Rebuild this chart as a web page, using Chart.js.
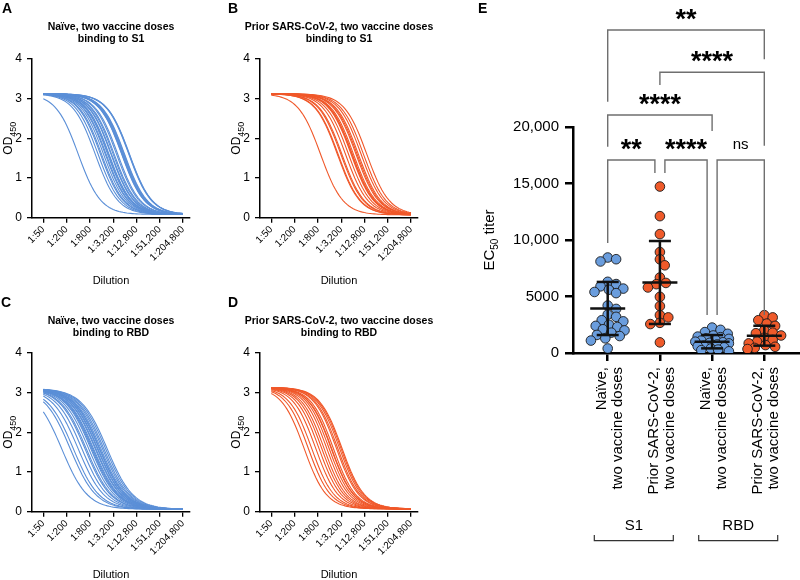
<!DOCTYPE html>
<html><head><meta charset="utf-8">
<script src="https://cdn.jsdelivr.net/npm/chart.js@4/dist/chart.umd.min.js"></script>
<style>
html,body{margin:0;padding:0;background:#fff;}
#wrap{position:relative;width:800px;height:580px;overflow:hidden;background:#fff;}
canvas{position:absolute;}
</style></head><body>
<div id="wrap">
<canvas id="cA" width="220" height="290" style="left:0px;top:0px"></canvas>
<canvas id="cB" width="220" height="290" style="left:228px;top:0px"></canvas>
<canvas id="cC" width="220" height="286" style="left:0px;top:294px"></canvas>
<canvas id="cD" width="220" height="286" style="left:228px;top:294px"></canvas>
<canvas id="cE" width="380" height="580" style="left:420px;top:0px"></canvas>
</div>
<script>
// ---------------- data ----------------
const dilutionTicks = [50, 200, 800, 3200, 12800, 51200, 204800];
const odTicks = [0, 1, 2, 3, 4];
const ec50Ticks = [0, 5000, 10000, 15000, 20000];
const groupLines = [['Naïve,', 'two vaccine doses'], ['Prior SARS-CoV-2,', 'two vaccine doses'],
                    ['Naïve,', 'two vaccine doses'], ['Prior SARS-CoV-2,', 'two vaccine doses']];
const antigenGroups = ['S1', 'RBD'];
const panelTitles = {
  A: ['Naïve, two vaccine doses', 'binding to S1'],
  B: ['Prior SARS-CoV-2, two vaccine doses', 'binding to S1'],
  C: ['Naïve, two vaccine doses', 'binding to RBD'],
  D: ['Prior SARS-CoV-2, two vaccine doses', 'binding to RBD']
};
// EC50 titers per participant (panel E); the same values are the midpoints of the fitted curves (A-D)
const naiveS1 = [8450, 8300, 8100, 6300, 6100, 5900, 5700, 5600, 5400, 5300, 4200, 3900, 3400, 3200,
                 2900, 2800, 2500, 2400, 2300, 2100, 2000, 1800, 1600, 1500, 1300, 1100, 400];
const priorS1 = [14730, 12110, 10520, 8930, 8290, 7760, 6680, 6200, 6090, 5800, 4970, 4150, 3350,
                 3150, 2670, 2560, 940];
const naiveRBD = [2250, 2050, 1850, 1700, 1550, 1450, 1400, 1300, 1250, 1150, 1100, 1000, 950, 900,
                  850, 750, 650, 600, 500, 400, 300, 250, 150];
const priorRBD = [3350, 3150, 2900, 2600, 2400, 2000, 1800, 1750, 1550, 1350, 1150, 1000, 850, 700,
                  550, 450, 350];
const groupMean = [3940, 6240, 1000, 1530];
const groupSD = [2350, 3670, 590, 880];
const fitA = [3.12, 0.08, 1.5];
const fitB = [3.12, 0.07, 1.5];
const fitC = [3.10, 0.06, 1.3];
const fitD = [3.13, 0.07, 1.5];
// significance comparisons [groupFrom, groupTo, label]
const comparisons = [[1, 2, '**'], [2, 3, '****'], [3, 4, 'ns'], [1, 3, '****'], [2, 4, '****'], [1, 4, '**']];

// ---------------- styling ----------------
const FONT = '"Liberation Sans", Arial, Helvetica, sans-serif';
Chart.defaults.font.family = FONT;
Chart.defaults.color = '#000';
Chart.defaults.animation = false;
const BLUE_LINE = '#5b8fd7', ORANGE_LINE = '#f0582a';
const BLUE_DOT = '#6a9ddd', ORANGE_DOT = '#ef5a2a';

function drawRotatedSub(ctx, main, sub, tail, x, y, size, subSize, subShift) {
  ctx.save();
  ctx.translate(x, y); ctx.rotate(-Math.PI / 2);
  ctx.textBaseline = 'alphabetic'; ctx.textAlign = 'left'; ctx.fillStyle = '#000';
  ctx.font = size + 'px ' + FONT; const w1 = ctx.measureText(main).width;
  const w3 = tail ? ctx.measureText(tail).width : 0;
  ctx.font = subSize + 'px ' + FONT; const w2 = ctx.measureText(sub).width;
  const sx = -(w1 + w2 + w3) / 2, base = size * 0.36;
  ctx.font = size + 'px ' + FONT; ctx.fillText(main, sx, base);
  if (tail) ctx.fillText(tail, sx + w1 + w2, base);
  ctx.font = subSize + 'px ' + FONT; ctx.fillText(sub, sx + w1, base + subShift);
  ctx.restore();
}

function makeCurvePanel(id, letter, letterX, title, ec50s, color, fit) {
  const cv = document.getElementById(id);
  const W = cv.width, H = cv.height;
  const area = {left: 32, right: 190, top: 58.7, bottom: 217.7};
  const [top, bottom, hill] = fit;
  const steps = [];
  for (let k = 0; k <= 72; k++) steps.push(dilutionTicks[0] * Math.pow(2, k / 6));
  const datasets = ec50s.map(e => ({
    data: steps.map(d => ({x: d, y: bottom + (top - bottom) / (1 + Math.pow(d / e, hill))})),
    borderColor: color, borderWidth: 1.1, pointRadius: 0, fill: false, tension: 0
  }));
  const axisGrid = {drawOnChartArea: false, drawTicks: true, tickLength: 5, color: '#000', lineWidth: 1.3};
  const axisBorder = {color: '#000', width: 1.5};
  return new Chart(cv, {
    type: 'line',
    data: {datasets},
    options: {
      responsive: false, maintainAspectRatio: false, animation: false,
      layout: {autoPadding: false, padding: {left: 0, top: area.top, right: W - area.right, bottom: 0}},
      plugins: {legend: {display: false}, tooltip: {enabled: false}, title: {display: false}},
      scales: {
        x: {
          type: 'logarithmic', min: 25.5, max: 310500,
          afterBuildTicks: s => { s.ticks = dilutionTicks.map(v => ({value: v})); },
          afterFit: s => { s.height = H - area.bottom; },
          ticks: {autoSkip: false, minRotation: 45, maxRotation: 45, padding: 1, font: {size: 10}, color: '#000',
                  callback: v => '1:' + Number(v).toLocaleString('en-US')},
          grid: axisGrid, border: axisBorder
        },
        y: {
          type: 'linear', min: 0, max: 4,
          afterBuildTicks: s => { s.ticks = odTicks.map(v => ({value: v})); },
          afterFit: s => { s.width = area.left; },
          ticks: {font: {size: 12}, padding: 5, color: '#000'},
          grid: axisGrid, border: axisBorder
        }
      }
    },
    plugins: [{
      id: 'decor',
      afterDraw(chart) {
        const ctx = chart.ctx, ca = chart.chartArea;
        const cx = (ca.left + ca.right) / 2;
        ctx.save();
        ctx.fillStyle = '#000';
        ctx.font = 'bold 14px ' + FONT; ctx.textAlign = 'left'; ctx.textBaseline = 'alphabetic';
        ctx.fillText(letter, letterX, 13.3);
        ctx.font = 'bold 10.5px ' + FONT; ctx.textAlign = 'center'; ctx.textBaseline = 'middle';
        ctx.fillText(title[0], cx, 27.5);
        ctx.fillText(title[1], cx, 39.5);
        ctx.font = '11px ' + FONT;
        ctx.fillText('Dilution', cx, 280.5);
        ctx.restore();
        drawRotatedSub(ctx, 'OD', '450', '', 8, (ca.top + ca.bottom) / 2, 12, 9, 3.5);
      }
    }]
  });
}

makeCurvePanel('cA', 'A', 2, panelTitles.A, naiveS1, BLUE_LINE, fitA);
makeCurvePanel('cB', 'B', 0, panelTitles.B, priorS1, ORANGE_LINE, fitB);
makeCurvePanel('cC', 'C', 1, panelTitles.C, naiveRBD, BLUE_LINE, fitC);
makeCurvePanel('cD', 'D', 0, panelTitles.D, priorRBD, ORANGE_LINE, fitD);

// ---------------- panel E ----------------
(function () {
  const cv = document.getElementById('cE');
  const W = cv.width, H = cv.height;
  const area = {left: 153, right: 380, top: 127, bottom: 353};
  const groups = [naiveS1, priorS1, naiveRBD, priorRBD];
  const dotColors = [BLUE_DOT, ORANGE_DOT, BLUE_DOT, ORANGE_DOT];
  const axisGrid = {drawOnChartArea: false, drawTicks: true, tickLength: 8, color: '#000', lineWidth: 2.5};
  const axisBorder = {color: '#000', width: 2.5};
  const bracketLayout = [
    {bar: 160, legs: [243, 173], inset: [0, -5]},
    {bar: 160, legs: [173, 315], inset: [5, -5]},
    {bar: 160, legs: [315, 315], inset: [5, 0]},
    {bar: 115, legs: [146.7, 131], inset: [0, 0]},
    {bar: 72.3, legs: [85, 145.7], inset: [0, 0]},
    {bar: 30, legs: [101.7, 59.3], inset: [0, 0]}
  ];
  const chart = new Chart(cv, {
    type: 'scatter',
    data: {
      datasets: groups.map((g, i) => ({
        data: g.map(v => ({x: i + 1, y: v})),
        backgroundColor: dotColors[i], borderColor: '#1a1a1a', borderWidth: 0.9,
        pointRadius: 4.8, pointHoverRadius: 4.8
      }))
    },
    options: {
      responsive: false, maintainAspectRatio: false, animation: false,
      layout: {autoPadding: false, padding: {left: 0, top: area.top, right: W - area.right, bottom: 0}},
      plugins: {legend: {display: false}, tooltip: {enabled: false}},
      scales: {
        x: {
          type: 'linear', min: 0.335, max: 4.684,
          afterBuildTicks: s => { s.ticks = [1, 2, 3, 4].map(v => ({value: v})); },
          afterFit: s => { s.height = H - area.bottom; },
          ticks: {display: false},
          grid: axisGrid, border: axisBorder
        },
        y: {
          type: 'linear', min: 0, max: 20000,
          afterBuildTicks: s => { s.ticks = ec50Ticks.map(v => ({value: v})); },
          afterFit: s => { s.width = area.left; },
          ticks: {font: {size: 15}, padding: 6, color: '#000',
                  callback: v => v >= 10000 ? Number(v).toLocaleString('en-US') : String(v)},
          grid: axisGrid, border: axisBorder
        }
      }
    },
    plugins: [{
      id: 'stats',
      afterDatasetsDraw(chart) {
        const ctx = chart.ctx, xs = chart.scales.x, ys = chart.scales.y;
        ctx.save();
        ctx.strokeStyle = '#111'; ctx.lineWidth = 2.5; ctx.lineCap = 'butt';
        const seg = (x1, y1, x2, y2) => { ctx.beginPath(); ctx.moveTo(x1, y1); ctx.lineTo(x2, y2); ctx.stroke(); };
        groupMean.forEach((m, i) => {
          const px = xs.getPixelForValue(i + 1);
          const pm = ys.getPixelForValue(m);
          const pt = ys.getPixelForValue(m + groupSD[i]);
          const pb = ys.getPixelForValue(Math.max(0, m - groupSD[i]));
          seg(px, pt, px, pb);
          seg(px - 17.5, pm, px + 17.5, pm);
          seg(px - 11, pt, px + 11, pt);
          seg(px - 11, pb, px + 11, pb);
        });
        ctx.restore();
      },
      afterDraw(chart) {
        const ctx = chart.ctx, xs = chart.scales.x, ca = chart.chartArea;
        ctx.save();
        // panel letter
        ctx.fillStyle = '#000';
        ctx.font = 'bold 14px ' + FONT; ctx.textAlign = 'left'; ctx.textBaseline = 'alphabetic';
        ctx.fillText('E', 58, 13.3);
        // significance brackets
        comparisons.forEach((c, i) => {
          const L = bracketLayout[i];
          const x1 = xs.getPixelForValue(c[0]) + L.inset[0];
          const x2 = xs.getPixelForValue(c[1]) + L.inset[1];
          ctx.strokeStyle = '#6f6f6f'; ctx.lineWidth = 1.4;
          ctx.beginPath();
          ctx.moveTo(x1, L.legs[0]); ctx.lineTo(x1, L.bar); ctx.lineTo(x2, L.bar); ctx.lineTo(x2, L.legs[1]);
          ctx.stroke();
          const label = c[2];
          const isStar = label.indexOf('*') >= 0;
          ctx.font = (isStar ? 'bold 27px ' : '15px ') + FONT;
          ctx.textAlign = 'center'; ctx.textBaseline = 'alphabetic';
          const m = ctx.measureText(label);
          const cy = L.bar - 15.5;
          const base = cy + (m.actualBoundingBoxAscent - m.actualBoundingBoxDescent) / 2;
          ctx.fillText(label, (x1 + x2) / 2, base);
        });
        // category labels
        ctx.fillStyle = '#000'; ctx.font = '15px ' + FONT;
        groupLines.forEach((lines, i) => {
          const px = xs.getPixelForValue(i + 1);
          ctx.save();
          ctx.translate(px, 367); ctx.rotate(-Math.PI / 2);
          ctx.textAlign = 'right'; ctx.textBaseline = 'alphabetic';
          ctx.fillText(lines[0], 0, -2);
          ctx.fillText(lines[1], 0, 14);
          ctx.restore();
        });
        // antigen group labels and brackets
        ctx.strokeStyle = '#333'; ctx.lineWidth = 1.2;
        antigenGroups.forEach((g, k) => {
          const a = xs.getPixelForValue(2 * k + 1), b = xs.getPixelForValue(2 * k + 2);
          const mid = (a + b) / 2;
          ctx.textAlign = 'center'; ctx.textBaseline = 'alphabetic';
          ctx.fillText(g, mid, 530);
          ctx.beginPath();
          ctx.moveTo(mid - 39.5, 535); ctx.lineTo(mid - 39.5, 540.7);
          ctx.lineTo(mid + 39.5, 540.7); ctx.lineTo(mid + 39.5, 535);
          ctx.stroke();
        });
        ctx.restore();
        drawRotatedSub(ctx, 'EC', '50', ' titer', 68.3, (ca.top + ca.bottom) / 2, 15, 10, 4);
      }
    }]
  });

  // spread points horizontally (beeswarm, limited width) so they do not pile up on one line
  const xs = chart.scales.x, ys = chart.scales.y;
  const pxPerUnit = Math.abs(xs.getPixelForValue(2) - xs.getPixelForValue(1));
  const minDist = 8.6, maxOff = 17;
  groups.forEach((vals, gi) => {
    const order = vals.map((v, i) => i).sort((a, b) => vals[b] - vals[a]);
    const placed = [], offs = new Array(vals.length).fill(0);
    order.forEach(i => {
      const py = ys.getPixelForValue(vals[i]);
      let chosen = null, bestCand = 0, bestScore = -1;
      for (let k = 0; ; k++) {
        const cand = k === 0 ? 0 : (k % 2 ? 1 : -1) * Math.ceil(k / 2) * 1.2;
        if (Math.abs(cand) > maxOff) break;
        const score = placed.length ? Math.min(...placed.map(p => Math.hypot(p.x - cand, (p.y - py) * 1.25))) : 99;
        if (score >= minDist) { chosen = cand; break; }
        if (score > bestScore) { bestScore = score; bestCand = cand; }
      }
      if (chosen === null) chosen = bestCand;
      placed.push({x: chosen, y: py});
      offs[i] = chosen;
    });
    chart.data.datasets[gi].data = vals.map((v, i) => ({x: gi + 1 + offs[i] / pxPerUnit, y: v}));
  });
  chart.update('none');
})();
</script>
</body></html>
